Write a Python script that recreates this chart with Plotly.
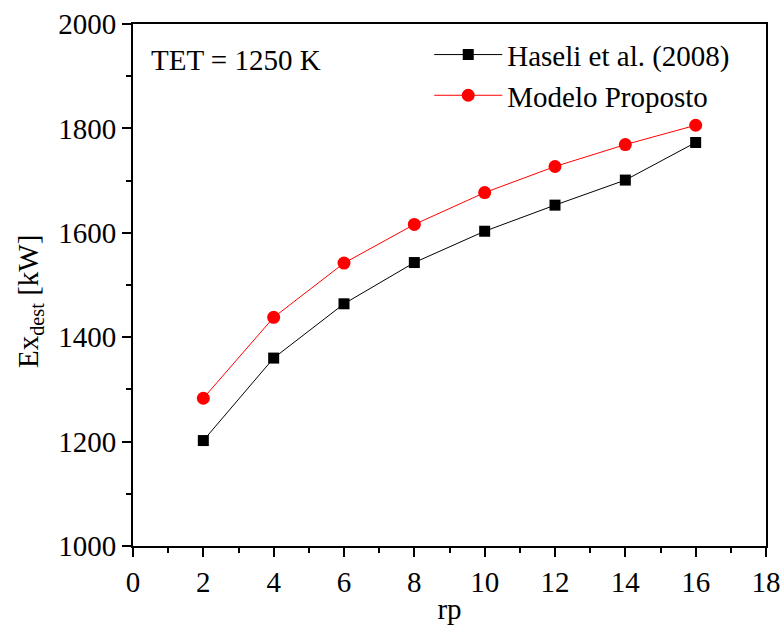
import plotly.graph_objects as go

rp = [2, 4, 6, 8, 10, 12, 14, 16]
haseli = [1202, 1360, 1464, 1543, 1603, 1653, 1701, 1773]
modelo = [1283, 1438, 1542, 1616, 1677, 1727, 1769, 1806]

FONT = "Liberation Serif, Times New Roman, serif"
FS = 29

fig = go.Figure()
fig.add_trace(go.Scatter(
    x=rp, y=haseli, mode="lines+markers", name="Haseli et al. (2008)",
    line=dict(color="black", width=1),
    marker=dict(symbol="square", size=11, color="black"),
))
fig.add_trace(go.Scatter(
    x=rp, y=modelo, mode="lines+markers", name="Modelo Proposto",
    line=dict(color="red", width=1),
    marker=dict(symbol="circle", size=13, color="red"),
))

axis_common = dict(
    showline=True, linecolor="black", linewidth=2, mirror=True,
    showgrid=False, zeroline=False, automargin=False,
    ticks="outside", ticklen=9, tickwidth=2, tickcolor="black",
    tickfont=dict(family=FONT, size=FS, color="black"),
    minor=dict(ticks="outside", ticklen=5, tickwidth=2, tickcolor="black"),
)

fig.update_xaxes(
    range=[0, 18], tickmode="array", tickvals=list(range(0, 19, 2)),
    minor_tickvals=list(range(1, 18, 2)),
    title=dict(text="rp", font=dict(family=FONT, size=FS, color="black"), standoff=2),
    **axis_common,
)
fig.update_yaxes(
    range=[1000, 2000], tickmode="array", tickvals=list(range(1000, 2001, 200)),
    minor_tickvals=list(range(1100, 2000, 200)),
    **axis_common,
)

# y-axis title as rotated annotation (positioned to match reference)
fig.add_annotation(
    x=-0.163, y=0.469, xref="paper", yref="paper", xanchor="center", yanchor="middle",
    text="Ex<sub>dest</sub> [kW]", textangle=-90, showarrow=False,
    font=dict(family=FONT, size=FS, color="black"),
)

fig.add_annotation(
    x=0.025, y=0.965, xref="paper", yref="paper", xanchor="left", yanchor="top",
    text="TET = 1250 K", showarrow=False,
    font=dict(family=FONT, size=FS, color="black"),
)

fig.update_layout(
    width=783, height=625,
    margin=dict(l=133, r=17, t=24, b=79, autoexpand=False),
    paper_bgcolor="white", plot_bgcolor="white",
    showlegend=True,
    legend=dict(
        x=0.468, y=0.99, xanchor="left", yanchor="top",
        bgcolor="rgba(0,0,0,0)", borderwidth=0,
        font=dict(family=FONT, size=FS, color="black"),
        itemwidth=68, tracegroupgap=0,
    ),
)

fig.write_html(
    "out.html",
    config={"displayModeBar": False},
    post_script="document.body.style.margin='0';document.body.style.overflow='hidden';",
)
